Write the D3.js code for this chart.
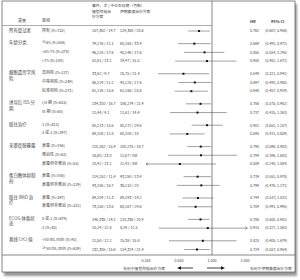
<!DOCTYPE html>
<meta charset="utf-8">
<script src="https://d3js.org/d3.v7.min.js"></script>
<style>
  body { margin: 0; background: #fff; }
  text { font-family: "Noto Sans CJK SC", "Noto Sans", sans-serif; fill: #444; }
</style>
<div id="chart"></div>
<script>
// 变量 (one per group) and which group each row belongs to
const groups = ["所有受试者", "年龄分类", "细胞遗传学风险", "诱导后 ISS 分期", "既往治疗",
  "来那度胺暴露", "蛋白酶体抑制剂", "既往 IMiD 治疗", "ECOG 体能状态", "基线 CrCl 值"];
const rowGroup = [0, 1, 1, 1, 2, 2, 2, 3, 3, 4, 4, 5, 5, 5, 6, 6, 7, 7, 8, 8, 9, 9];

// 亚组
const subgroups = ["所有 (n=722)", "≤65 (n=344)", ">65-75 (n=278)", ">75 (n=100)",
  "高风险 (n=127)", "中等风险 (n=249)", "标准风险 (n=271)",
  "I/II 期 (n=633)", "III 期 (n=60)", "1 (n=412)", "2 或 3 (n=297)",
  "暴露 (n=556)", "难治性 (n=62)", "暴露但非难治 (n=83)",
  "暴露 (n=550)", "暴露但非难治 (n=229)", "暴露 (n=397)", "暴露但非难治 (n=321)",
  "0 或 1 (n=679)", "2 (n=43)", "<50 mL/min (n=92)", "≥50 mL/min (n=629)"];

// 事件，次 / 中位生存期（月数）
const armA = ["157,362 / 14.7", "79,176 / 11.1", "46,128 / 17.6", "51,61 / 13.1",
  "33,62 / 9.7", "86,124 / 11.2", "61,216 / 15.6", "134,310 / 16.7", "11,44 / 9.1",
  "80,213 / 15.6", "69,108 / 12.8", "110,262 / 15.4", "16,60 / 13.0", "20,42 / 13.1",
  "114,252 / 11.4", "43,106 / 16.7", "89,204 / 11.3", "73,158 / 13.6",
  "146,336 / 14.1", "10,24 / 12.8", "21,50 / 12.2", "132,305 / 15.6"];
const armB = ["129,360 / 20.6", "60,168 / 33.4", "40,146 / 17.6", "19,47 / 15.5",
  "28,75 / 21.4", "40,125 / 17.6", "61,186 / 25.6", "106,274 / 21.4", "11,61 / 14.4",
  "80,272 / 29.6", "60,108 / 18", "100,275 / 18.7", "11,67 / NR", "12,41 / NR",
  "93,250 / 13.4", "36,110 / 20", "69,193 / 19.2", "60,167 / 29.6",
  "120,336 / 20.4", "8,19 / 11.5", "15,38 / 15.8", "114,324 / 21.4"];

// HR and 95% CI
const hr = [0.762, 0.689, 0.855, 0.900, 0.549, 0.697, 0.648, 0.786, 0.737, 0.902, 0.595,
  0.790, 0.794, 0.509, 0.739, 0.799, 0.744, 0.709, 0.786, 0.915, 0.825, 0.729];
const lower = [0.607, 0.491, 0.554, 0.462, 0.321, 0.493, 0.457, 0.575, 0.415, 0.652, 0.411,
  0.596, 0.396, 0.240, 0.551, 0.476, 0.537, 0.491, 0.605, 0.327, 0.405, 0.557];
const upper = [0.956, 0.971, 1.295, 1.672, 0.941, 0.985, 0.919, 0.982, 1.363, 1.257, 0.859,
  0.983, 1.683, 1.084, 0.978, 1.171, 1.031, 0.995, 0.951, 2.563, 1.679, 0.954];

const tickValues = [0.25, 0.5, 1, 2];
const eventsTitle = "事件，次 / 中位生存期（月数）";
const armTitles = ["接受阿帕治疗方案", "伊朗赛德治疗方案"];
const favourLabels = ["有利于接受阿帕治疗方案", "有利于伊朗赛德治疗方案"];

const width = 300, height = 280;
const svg = d3.select("#chart").append("svg")
  .attr("width", width).attr("height", height);

// page shadow + frame
const defs = svg.append("defs");
defs.append("filter").attr("id", "blur")
  .append("feGaussianBlur").attr("stdDeviation", 1.3);
svg.append("rect").attr("x", 4).attr("y", 4).attr("width", 293).attr("height", 272)
  .attr("fill", "#9a9a9a").attr("filter", "url(#blur)");
svg.append("rect").attr("x", 2).attr("y", 1).attr("width", 293).attr("height", 271)
  .attr("fill", "#fff").attr("stroke", "#555").attr("stroke-width", 0.7);

const x = d3.scaleLog().domain([0.25, 2]).range([146, 245]);
const clip = [0.25, 2.1];
const slots = rowGroup.map((g, i) => i + g * 0.45);
const y = d3.scaleLinear().domain([0, d3.max(slots)]).range([31, 249.5]);
const rowY = i => y(slots[i]);
const fmt = d3.format(".3f");

function wrap(sel, maxW, lineH) {
  sel.each(function () {
    const t = d3.select(this);
    const chars = Array.from(t.text());
    const x0 = t.attr("x");
    t.text(null);
    let line = t.append("tspan").attr("x", x0);
    let cur = "";
    chars.forEach(c => {
      line.text(cur + c);
      if (line.node().getComputedTextLength() > maxW && cur.length) {
        line.text(cur);
        cur = c === " " ? "" : c;
        line = t.append("tspan").attr("x", x0).attr("dy", lineH).text(cur);
      } else cur += c;
    });
  });
}

// header
svg.append("text").attr("x", 92).attr("y", 7).attr("font-size", 3.8).text(eventsTitle);
svg.append("text").attr("x", 92).attr("y", 13).attr("font-size", 3.8)
  .text(armTitles[0]).call(wrap, 20, 5);
svg.append("text").attr("x", 120).attr("y", 13).attr("font-size", 3.8).text(armTitles[1]);
svg.append("text").attr("x", 18).attr("y", 21.5).attr("font-size", 4).text("变量");
svg.append("text").attr("x", 42).attr("y", 21.5).attr("font-size", 4).text("亚组");
svg.append("text").attr("x", 250).attr("y", 23).attr("font-size", 4)
  .attr("font-weight", "bold").text("HR");
svg.append("text").attr("x", 271).attr("y", 23).attr("font-size", 4)
  .attr("font-weight", "bold").text("95% CI");
svg.append("line").attr("x1", 2).attr("x2", x(1)).attr("y1", 25.5).attr("y2", 25.5)
  .attr("stroke", "#777").attr("stroke-width", 0.6);

// reference line and bottom rule
svg.append("line").attr("x1", x(1)).attr("x2", x(1)).attr("y1", 1).attr("y2", 255)
  .attr("stroke", "#555").attr("stroke-width", 0.7);
svg.append("line").attr("x1", 2).attr("x2", 295).attr("y1", 255).attr("y2", 255)
  .attr("stroke", "#555").attr("stroke-width", 0.7);

// group labels (first row of each group)
const firstRows = groups.map((g, gi) => rowGroup.indexOf(gi));
svg.selectAll(".grp").data(groups).join("text")
  .attr("class", "grp")
  .attr("x", 9).attr("y", (d, gi) => rowY(firstRows[gi]) + 0.5)
  .attr("font-size", 4.4)
  .text(d => d)
  .call(wrap, 28, 5.5);

const rows = d3.range(hr.length);
svg.selectAll(".sub").data(rows).join("text")
  .attr("x", 42).attr("y", i => rowY(i) + 0.5).attr("font-size", 4)
  .text(i => subgroups[i]);
svg.selectAll(".armA").data(rows).join("text")
  .attr("x", 92).attr("y", i => rowY(i) + 1.3).attr("font-size", 3.7)
  .text(i => armA[i]);
svg.selectAll(".armB").data(rows).join("text")
  .attr("x", 120).attr("y", i => rowY(i) + 1.3).attr("font-size", 3.7)
  .text(i => armB[i]);
svg.selectAll(".hrt").data(rows).join("text")
  .attr("x", 250).attr("y", i => rowY(i) + 1.3).attr("font-size", 3.6)
  .text(i => fmt(hr[i]));
svg.selectAll(".cit").data(rows).join("text")
  .attr("x", 265).attr("y", i => rowY(i) + 1.3).attr("font-size", 3.6)
  .text(i => `(${fmt(lower[i])}, ${fmt(upper[i])})`);

// CI lines, clipped with arrows
const cx = v => x(Math.max(clip[0], Math.min(clip[1], v)));
svg.selectAll(".ci").data(rows).join("line")
  .attr("x1", i => cx(lower[i])).attr("x2", i => cx(upper[i]))
  .attr("y1", rowY).attr("y2", rowY)
  .attr("stroke", "#555").attr("stroke-width", 0.55);
rows.filter(i => lower[i] < clip[0]).forEach(i => {
  const x0 = cx(lower[i]), yy = rowY(i);
  svg.append("path").attr("d", `M${x0 + 2},${yy - 1.3}L${x0},${yy}L${x0 + 2},${yy + 1.3}`)
    .attr("fill", "none").attr("stroke", "#555").attr("stroke-width", 0.55);
});
rows.filter(i => upper[i] > clip[1]).forEach(i => {
  const x0 = cx(upper[i]), yy = rowY(i);
  svg.append("path").attr("d", `M${x0 - 2},${yy - 1.3}L${x0},${yy}L${x0 - 2},${yy + 1.3}`)
    .attr("fill", "none").attr("stroke", "#555").attr("stroke-width", 0.55);
});
svg.selectAll(".pt").data(rows).join("rect")
  .attr("x", i => x(hr[i]) - 1).attr("y", i => rowY(i) - 1)
  .attr("width", 2).attr("height", 2).attr("fill", "#111");

// axis labels
svg.selectAll(".tick").data(tickValues).join("text")
  .attr("x", d => x(d)).attr("y", 262).attr("font-size", 3.6)
  .attr("text-anchor", "middle").text(d3.format(".3f"));

svg.append("text").attr("x", 165).attr("y", 269.5).attr("font-size", 3.8)
  .attr("text-anchor", "end").text(favourLabels[0]);
svg.append("text").attr("x", 250).attr("y", 269.5).attr("font-size", 3.8)
  .text(favourLabels[1]);
svg.append("line").attr("x1", 193).attr("x2", 180).attr("y1", 268).attr("y2", 268)
  .attr("stroke", "#111").attr("stroke-width", 0.8);
svg.append("path").attr("d", "M177,268L181,266.3L181,269.7Z").attr("fill", "#111");
svg.append("line").attr("x1", 207).attr("x2", 222).attr("y1", 268).attr("y2", 268)
  .attr("stroke", "#111").attr("stroke-width", 0.8);
svg.append("path").attr("d", "M225,268L221,266.3L221,269.7Z").attr("fill", "#111");
</script>
